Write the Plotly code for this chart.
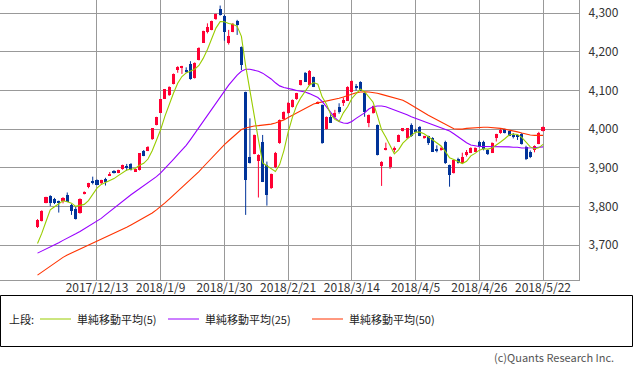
import plotly.graph_objects as go
import numpy as np

# ---------------- data ----------------
tick_idx = [14, 29, 44, 59, 74, 89, 104, 119]
tick_labels = ["2017/12/13", "2018/1/9", "2018/1/30", "2018/2/21",
               "2018/3/14", "2018/4/5", "2018/4/26", "2018/5/22"]
y_ticks = [3700, 3800, 3900, 4000, 4100, 4200, 4300]

opens = [3746,3763,3809,3827,3819,3812,3815,3830,3804,3792,
         3782,3832,3849,3865,3868,3860,3870,3881,3892,3887,
         3896,3905,3910,3891,3894,3944,3944,3974,4011,4043,
         4079,4088,4117,4153,4160,4152,4169,4132,4179,4224,
         4251,4257,4284,4311,4294,4222,4252,4281,4212,4096,
         3929,3936,3917,3968,3907,3847,3901,3963,4025,4041,
         4057,4077,4114,4146,4114,4134,4067,4063,4000,4032,
         4031,4058,4067,4074,4097,4112,4123,4094,4017,4041,
         4011,3905,3946,3903,3945,3968,3995,3976,4011,3999,
         4006,3976,3981,3978,3947,3948,3968,3907,3886,3924,
         3912,3933,3939,3942,3966,3968,3946,3939,3976,3989,
         4000,3995,3985,3984,3987,3955,3942,3946,3962,3995]

highs = [3767,3790,3825,3829,3822,3815,3824,3836,3806,3799,
         3821,3839,3861,3877,3870,3869,3874,3889,3894,3895,
         3908,3910,3912,3897,3938,3946,3956,4003,4032,4078,
         4104,4111,4144,4163,4164,4160,4176,4173,4212,4255,
         4274,4281,4299,4320,4296,4257,4275,4283,4214,4097,
         4028,3986,3935,3985,3916,3885,3941,4025,4046,4070,
         4077,4094,4127,4148,4153,4136,4072,4064,4033,4040,
         4050,4067,4082,4111,4126,4117,4124,4095,4038,4061,
         4012,3917,3965,3930,3955,3986,4003,4003,4015,4001,
         4008,3983,3983,3979,3958,3955,3970,3908,3921,3926,
         3939,3946,3953,3953,3970,3970,3948,3966,3988,4000,
         4001,3996,3990,3986,3990,3957,3945,3958,3993,4007]

lows = [3744,3761,3808,3801,3806,3784,3808,3811,3778,3766,
        3781,3831,3847,3857,3855,3858,3854,3880,3885,3886,
        3895,3893,3893,3890,3893,3930,3943,3972,4010,4042,
        4078,4086,4116,4146,4143,4146,4128,4131,4178,4223,
        4248,4256,4283,4294,4229,4219,4251,4244,4153,3778,
        3911,3935,3823,3863,3802,3845,3899,3962,4024,4040,
        4056,4076,4113,4122,4113,4109,4066,3962,3999,4016,
        4030,4040,4060,4073,4096,4100,4099,4032,4005,4040,
        3932,3853,3945,3897,3940,3967,3994,3975,3980,3992,
        3982,3975,3959,3941,3940,3944,3910,3851,3885,3911,
        3910,3929,3938,3941,3953,3945,3933,3938,3968,3988,
        3989,3982,3976,3972,3960,3920,3925,3940,3961,3994]

closes = [3765,3789,3824,3808,3809,3810,3822,3812,3789,3767,
          3820,3838,3860,3862,3856,3868,3865,3885,3886,3894,
          3907,3899,3894,3896,3937,3931,3955,4002,4031,4077,
          4103,4110,4143,4162,4163,4150,4129,4172,4211,4254,
          4265,4280,4298,4295,4252,4242,4272,4270,4166,3868,
          3912,3985,3934,3864,3830,3884,3939,4024,4045,4069,
          4076,4093,4126,4123,4151,4110,4071,3963,4032,4017,
          4043,4044,4075,4110,4125,4106,4100,4045,4037,4060,
          3933,3916,3950,3929,3952,3985,4002,4002,3981,3993,
          3983,3982,3963,3942,3945,3950,3912,3881,3920,3913,
          3929,3940,3952,3952,3955,3948,3935,3965,3987,3999,
          3990,3983,3979,3980,3962,3922,3927,3956,3991,4006]

# closes of the 4 sessions before the first visible candle (for the 5-day MA)
pre_closes = [3659, 3669, 3658, 3769]

ma25 = [3679,3684,3690,3695,3701,3706,3712,3717,3723,3729,
        3735,3742,3748,3754,3761,3769,3778,3787,3795,3803,
        3812,3821,3830,3838,3846,3853,3860,3868,3877,3887,
        3898,3910,3922,3934,3946,3958,3973,3989,4005,4021,
        4037,4053,4068,4084,4099,4114,4127,4140,4150,4155,
        4155,4153,4150,4145,4138,4130,4120,4112,4108,4106,
        4103,4100,4098,4096,4092,4088,4082,4072,4058,4045,
        4030,4020,4016,4015,4020,4028,4035,4042,4052,4058,
        4060,4060,4058,4054,4050,4046,4042,4037,4032,4028,
        4024,4020,4015,4012,4008,4004,4000,3995,3988,3980,
        3974,3965,3959,3956,3955,3955,3955,3955,3955,3955,
        3954,3954,3953,3953,3951,3951,3951,3952,3953,3954]

ma50 = [3622,3630,3638,3646,3654,3661,3668,3674,3679,3684,
        3689,3694,3699,3704,3709,3714,3719,3725,3730,3735,
        3741,3746,3752,3758,3764,3770,3776,3783,3791,3799,
        3809,3819,3829,3839,3849,3859,3869,3879,3890,3902,
        3914,3926,3938,3950,3960,3970,3979,3990,3999,4003,
        4006,4008,4009,4010,4011,4013,4016,4019,4024,4030,
        4036,4042,4048,4054,4060,4065,4068,4070,4072,4074,
        4077,4080,4083,4087,4091,4094,4096,4097,4096,4095,
        4093,4090,4087,4084,4081,4078,4075,4069,4062,4056,
        4050,4043,4036,4030,4024,4018,4012,4005,4001,4000,
        4000,4002,4003,4004,4005,4005,4005,4004,4004,4002,
        4000,3998,3996,3993,3990,3987,3985,3984,3984,3984]

legend_names = ["単純移動平均(5)", "単純移動平均(25)", "単純移動平均(50)"]

# ---------------- styles ----------------
UP = "#ff0033"
DOWN = "#003399"
C5, C25, C50 = "#99cc00", "#9900ff", "#ff3300"
GRID = "#999999"
FONT = "Noto Sans CJK JP"

W, H = 633, 370
ML, MR, MT, MB = 0, 54, 0, 90
PW, PH = W - ML - MR, H - MT - MB

o = np.array(opens, float)
h = np.array(highs, float)
l = np.array(lows, float)
c = np.array(closes, float)
x = np.arange(len(c))
allc = np.concatenate([pre_closes, c])
ma5 = np.array([allc[i:i + 5].mean() for i in range(len(c))])

up = c >= o
colors = [UP if u else DOWN for u in up]

fig = go.Figure()

# wicks
for mask, col in ((up, UP), (~up, DOWN)):
    wx, wy = [], []
    for i in np.where(mask)[0]:
        wx += [x[i], x[i], None]
        wy += [l[i], h[i], None]
    fig.add_trace(go.Scatter(x=wx, y=wy, mode="lines",
                             line=dict(color=col, width=1),
                             hoverinfo="skip", showlegend=False))

# bodies
base = np.minimum(o, c)
height = np.maximum(np.abs(c - o), 1.5)
fig.add_trace(go.Bar(x=x, y=height, base=base, width=0.72,
                     marker=dict(color=colors, line=dict(width=0)),
                     showlegend=False))

# moving averages
fig.add_trace(go.Scatter(x=x, y=ma50, mode="lines", line=dict(color=C50, width=1.1),
                         name=legend_names[2], showlegend=False))
fig.add_trace(go.Scatter(x=x, y=ma25, mode="lines", line=dict(color=C25, width=1.1),
                         name=legend_names[1], showlegend=False))
fig.add_trace(go.Scatter(x=x, y=ma5, mode="lines", line=dict(color=C5, width=1.1),
                         name=legend_names[0], showlegend=False))

# pixel -> paper helpers for the legend box drawn under the plot
def px(xp):
    return (xp - ML) / PW

def py(yp):
    return (MT + PH - yp) / PH

LEG_Y = 319
shapes = [dict(type="rect", xref="paper", yref="paper",
               x0=px(0.5), x1=px(632.5), y0=py(295.5), y1=py(346.5),
               line=dict(color="#000000", width=1))]
annotations = [dict(text="上段:", xref="paper", yref="paper", x=px(7), y=py(LEG_Y),
                    xanchor="left", yanchor="middle", showarrow=False,
                    font=dict(family=FONT, size=11, color="#222222"))]
for (lx, col, name) in ((40, C5, legend_names[0]),
                        (168, C25, legend_names[1]),
                        (312, C50, legend_names[2])):
    shapes.append(dict(type="line", xref="paper", yref="paper",
                       x0=px(lx), x1=px(lx + 31), y0=py(LEG_Y), y1=py(LEG_Y),
                       line=dict(color=col, width=1)))
    annotations.append(dict(text=name, xref="paper", yref="paper",
                            x=px(lx + 35), y=py(LEG_Y), xanchor="left", yanchor="middle",
                            showarrow=False,
                            font=dict(family=FONT, size=11, color="#222222")))
annotations.append(dict(text="(c)Quants Research Inc.", xref="paper", yref="paper",
                        x=px(616), y=py(357), xanchor="right", yanchor="middle",
                        showarrow=False,
                        font=dict(family=FONT, size=11, color="#555555")))

fig.update_layout(
    width=W, height=H,
    margin=dict(l=ML, r=MR, t=MT, b=MB, pad=0),
    paper_bgcolor="white", plot_bgcolor="white",
    barmode="overlay", bargap=0,
    showlegend=False,
    shapes=shapes, annotations=annotations,
    font=dict(family=FONT, size=12, color="#333333"),
    xaxis=dict(range=[-8.83, 127.47], tickmode="array", tickvals=tick_idx,
               ticktext=tick_labels, showgrid=True, gridcolor=GRID, gridwidth=1,
               showline=True, linecolor=GRID, linewidth=1, mirror=True,
               zeroline=False, ticks="", ticklabelstandoff=-3,
               tickfont=dict(family=FONT, size=12, color="#333333"),
               fixedrange=True),
    yaxis=dict(range=[3609.4, 4334.4], side="right", tickmode="array",
               tickvals=y_ticks, ticktext=[f"{v:,}" for v in y_ticks],
               showgrid=True, gridcolor=GRID, gridwidth=1,
               showline=True, linecolor=GRID, linewidth=1, mirror=True,
               zeroline=False, ticks="", ticklabelstandoff=6,
               tickfont=dict(family=FONT, size=12, color="#333333"),
               fixedrange=True),
)

fig.write_html("out.html", config={"displayModeBar": False},
               post_script="document.body.style.margin='0';document.body.style.overflow='hidden';")
